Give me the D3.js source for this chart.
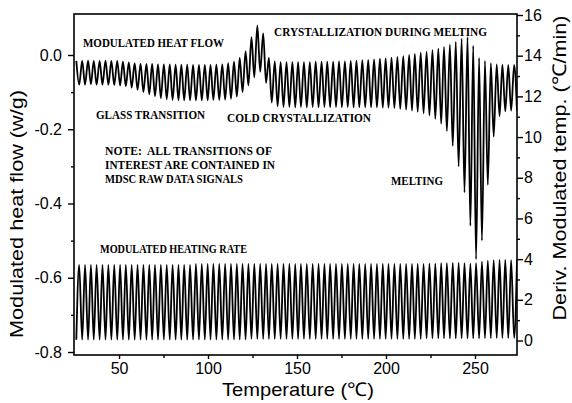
<!DOCTYPE html>
<html>
<head>
<meta charset="utf-8">
<script src="https://cdn.jsdelivr.net/npm/d3@7"></script>
<style>
  body { margin: 0; background: #fff; }
  svg { display: block; }
  .tick text { font-family: "Liberation Sans", Arial, sans-serif; font-size: 16px; fill: #000; }
  .tick line { stroke: #000; stroke-width: 1.4; }
  .note { font-family: "Liberation Serif", "Times New Roman", serif; font-weight: bold; font-size: 11.5px; fill: #000; }
  .title { font-family: "Liberation Sans", Arial, sans-serif; font-size: 19px; fill: #000; }
</style>
</head>
<body>
<svg id="chart" width="572" height="403"></svg>
<script>
// temperature (C) of each heat flow maximum / minimum, one entry per modulation cycle
let cycleTemp = [26.0, 29.3, 32.6, 35.8, 39.1, 42.4, 45.7, 49.0, 52.2, 55.5,
  58.8, 62.1, 65.4, 68.6, 71.9, 75.2, 78.5, 81.8, 85.0, 88.3,
  91.6, 94.9, 98.2, 101.4, 104.7, 108.0, 111.3, 114.6, 117.8, 121.1,
  124.4, 127.7, 131.0, 134.2, 137.5, 140.8, 144.1, 147.4, 150.6, 153.9,
  157.2, 160.5, 163.8, 167.0, 170.3, 173.6, 176.9, 180.2, 183.4, 186.7,
  190.0, 193.3, 196.6, 199.8, 203.1, 206.4, 209.7, 213.0, 216.2, 219.5,
  222.8, 226.1, 229.4, 232.6, 235.9, 239.2, 242.5, 245.8, 249.0, 252.3,
  255.6, 258.9, 262.2, 265.4, 268.7, 272.0];
let troughTemp = [27.6, 30.9, 34.2, 37.4, 40.7, 44.0, 47.3, 50.6, 53.8, 57.1,
  60.4, 63.7, 67.0, 70.2, 73.5, 76.8, 80.1, 83.4, 86.6, 89.9,
  93.2, 96.5, 99.8, 103.0, 106.3, 109.6, 112.9, 116.2, 119.4, 122.7,
  126.0, 129.3, 132.6, 135.8, 139.1, 142.4, 145.7, 149.0, 152.2, 155.5,
  158.8, 162.1, 165.4, 168.6, 171.9, 175.2, 178.5, 181.8, 185.0, 188.3,
  191.6, 194.9, 198.2, 201.4, 204.7, 208.0, 211.3, 214.6, 217.8, 221.1,
  224.4, 227.7, 231.0, 234.2, 237.5, 240.8, 244.1, 247.4, 250.6, 253.9,
  257.2, 260.5, 263.8, 267.0, 270.3, 273.6];

// modulated heat flow (w/g), left axis
let flowHigh = [-0.016, -0.016, -0.015, -0.016, -0.016, -0.015, -0.016, -0.016, -0.018, -0.020,
  -0.022, -0.023, -0.024, -0.024, -0.025, -0.025, -0.025, -0.026, -0.026, -0.026,
  -0.027, -0.027, -0.027, -0.027, -0.026, -0.025, -0.022, -0.018, -0.008, 0.010,
  0.048, 0.080, 0.058, -0.008, -0.017, -0.019, -0.019, -0.019, -0.019, -0.019,
  -0.019, -0.018, -0.018, -0.018, -0.018, -0.017, -0.017, -0.016, -0.015, -0.014,
  -0.013, -0.012, -0.010, -0.009, -0.007, -0.005, -0.003, 0.000, 0.003, 0.006,
  0.009, 0.013, 0.017, 0.022, 0.028, 0.035, 0.044, 0.048, 0.025, -0.008,
  -0.016, -0.022, -0.025, -0.026, -0.027, -0.027];
let flowLow = [-0.080, -0.080, -0.079, -0.080, -0.080, -0.080, -0.081, -0.082, -0.084, -0.088,
  -0.094, -0.100, -0.106, -0.111, -0.116, -0.119, -0.121, -0.122, -0.122, -0.122,
  -0.122, -0.122, -0.122, -0.121, -0.121, -0.120, -0.118, -0.112, -0.100, -0.082,
  -0.060, -0.045, -0.075, -0.128, -0.138, -0.140, -0.140, -0.141, -0.140, -0.141,
  -0.140, -0.141, -0.140, -0.141, -0.140, -0.141, -0.140, -0.141, -0.141, -0.141,
  -0.141, -0.141, -0.142, -0.142, -0.143, -0.145, -0.147, -0.150, -0.153, -0.157,
  -0.163, -0.172, -0.185, -0.205, -0.245, -0.300, -0.370, -0.460, -0.550, -0.500,
  -0.350, -0.220, -0.165, -0.152, -0.150, -0.150];

// modulated heating rate (C/min), right axis
let rateHigh = [3.72, 3.72, 3.72, 3.72, 3.72, 3.72, 3.72, 3.72, 3.72, 3.72,
  3.72, 3.72, 3.72, 3.72, 3.72, 3.72, 3.72, 3.72, 3.72, 3.72,
  3.76, 3.76, 3.76, 3.76, 3.76, 3.76, 3.76, 3.76, 3.76, 3.76,
  3.76, 3.76, 3.76, 3.76, 3.76, 3.76, 3.76, 3.76, 3.76, 3.76,
  3.76, 3.76, 3.76, 3.76, 3.76, 3.76, 3.76, 3.76, 3.76, 3.76,
  3.76, 3.76, 3.76, 3.76, 3.76, 3.76, 3.76, 3.76, 3.76, 3.76,
  3.78, 3.78, 3.80, 3.80, 3.82, 3.82, 3.80, 3.78, 3.80, 3.88,
  3.92, 3.95, 3.96, 3.96, 3.95, 3.95];
let rateLow = [0.04, 0.04, 0.04, 0.04, 0.04, 0.04, 0.04, 0.04, 0.04, 0.04,
  0.04, 0.04, 0.04, 0.04, 0.04, 0.04, 0.04, 0.04, 0.04, 0.04,
  0.04, 0.04, 0.04, 0.04, 0.04, 0.04, 0.04, 0.04, 0.04, 0.04,
  0.08, 0.08, 0.08, 0.08, 0.08, 0.08, 0.08, 0.08, 0.08, 0.08,
  0.08, 0.08, 0.08, 0.08, 0.08, 0.08, 0.08, 0.08, 0.08, 0.08,
  0.08, 0.08, 0.08, 0.08, 0.08, 0.08, 0.08, 0.08, 0.08, 0.08,
  0.10, 0.10, 0.10, 0.10, 0.10, 0.10, 0.10, 0.10, 0.10, 0.10,
  0.12, 0.12, 0.12, 0.12, 0.12, 0.12];

let xTicks = [50, 100, 150, 200, 250];
let xMinorTicks = [75, 125, 175, 225];
let leftTicks = [0.0, -0.2, -0.4, -0.6, -0.8];
let leftMinorTicks = [-0.1, -0.3, -0.5, -0.7];
let rightTicks = [0, 2, 4, 6, 8, 10, 12, 14, 16];
let rightMinorTicks = [1, 3, 5, 7, 9, 11, 13, 15];

let labels = [
  {text: "MODULATED HEAT FLOW", x: 83, y: 47, len: 141},
  {text: "CRYSTALLIZATION DURING MELTING", x: 274, y: 35.5, len: 213},
  {text: "GLASS TRANSITION", x: 96, y: 118.5, len: 109},
  {text: "COLD CRYSTALLIZATION", x: 227, y: 121.5, len: 144},
  {text: "NOTE:  ALL TRANSITIONS OF", x: 105, y: 154.5, len: 167},
  {text: "INTEREST ARE CONTAINED IN", x: 105, y: 169, len: 170},
  {text: "MDSC RAW DATA SIGNALS", x: 105, y: 183, len: 138},
  {text: "MELTING", x: 391, y: 185, len: 52},
  {text: "MODULATED HEATING RATE", x: 100, y: 252.5, len: 147}
];

let plotLeft = 74, plotRight = 517, plotTop = 14, plotBottom = 355;
let svg = d3.select("#chart");

let xScale = d3.scaleLinear().domain([24.7, 273.6]).range([plotLeft, plotRight]);
let yLeft = d3.scaleLinear().domain([-0.8, 0]).range([352, 55]);
let yRight = d3.scaleLinear().domain([0, 16]).range([340.5, 15]);

// build the oscillating traces from the read extrema
let flowPts = [];
let ratePts = [];
cycleTemp.forEach(function(t, i) {
  flowPts.push([t, flowHigh[i]]);
  flowPts.push([troughTemp[i], flowLow[i]]);
  ratePts.push([t, rateLow[i]]);
  ratePts.push([troughTemp[i], rateHigh[i]]);
});

svg.append("clipPath").attr("id", "plotClip")
  .append("rect")
  .attr("x", plotLeft).attr("y", plotTop)
  .attr("width", plotRight - plotLeft).attr("height", plotBottom - plotTop);

let flowLine = d3.line()
  .x(d => xScale(d[0]))
  .y(d => yLeft(d[1]))
  .curve(d3.curveMonotoneX);
let rateLine = d3.line()
  .x(d => xScale(d[0]))
  .y(d => yRight(d[1]))
  .curve(d3.curveMonotoneX);

let plot = svg.append("g").attr("clip-path", "url(#plotClip)");
plot.append("path")
  .attr("d", flowLine(flowPts))
  .attr("fill", "none")
  .attr("stroke", "#000")
  .attr("stroke-width", 1.8)
  .attr("stroke-linejoin", "round");
plot.append("path")
  .attr("d", rateLine(ratePts))
  .attr("fill", "none")
  .attr("stroke", "#000")
  .attr("stroke-width", 1.8)
  .attr("stroke-linejoin", "round");

// axes
let xAxis = d3.axisBottom(xScale).tickValues(xTicks).tickSize(4).tickPadding(4).tickSizeOuter(0);
svg.append("g").attr("transform", "translate(0," + plotBottom + ")").call(xAxis)
  .call(g => g.select(".domain").remove());
svg.append("g").attr("transform", "translate(0," + plotBottom + ")")
  .call(d3.axisBottom(xScale).tickValues(xMinorTicks).tickSize(3).tickFormat(""))
  .call(g => g.select(".domain").remove());

let leftAxis = d3.axisLeft(yLeft).tickValues(leftTicks).tickSize(6).tickPadding(6)
  .tickFormat(d => d.toFixed(1));
svg.append("g").attr("transform", "translate(" + plotLeft + ",0)").call(leftAxis)
  .call(g => g.select(".domain").remove());
svg.append("g").attr("transform", "translate(" + plotLeft + ",0)")
  .call(d3.axisLeft(yLeft).tickValues(leftMinorTicks).tickSize(3).tickFormat(""))
  .call(g => g.select(".domain").remove());

let rightAxis = d3.axisRight(yRight).tickValues(rightTicks).tickSize(6).tickPadding(1);
svg.append("g").attr("transform", "translate(" + plotRight + ",0)").call(rightAxis)
  .call(g => g.select(".domain").remove());
svg.append("g").attr("transform", "translate(" + plotRight + ",0)")
  .call(d3.axisRight(yRight).tickValues(rightMinorTicks).tickSize(3).tickFormat(""))
  .call(g => g.select(".domain").remove());

svg.append("rect")
  .attr("x", plotLeft).attr("y", plotTop)
  .attr("width", plotRight - plotLeft).attr("height", plotBottom - plotTop)
  .attr("fill", "none")
  .attr("stroke", "#000")
  .attr("stroke-width", 1.6);

// axis titles
svg.append("text").attr("class", "title")
  .attr("transform", "translate(23,214) rotate(-90)")
  .attr("text-anchor", "middle")
  .attr("textLength", 248).attr("lengthAdjust", "spacingAndGlyphs")
  .text("Modulated heat flow (w/g)");
svg.append("text").attr("class", "title")
  .attr("transform", "translate(566,168) rotate(-90)")
  .attr("text-anchor", "middle")
  .attr("textLength", 305).attr("lengthAdjust", "spacingAndGlyphs")
  .text("Deriv. Modulated temp. (\u2103/min)");
svg.append("text").attr("class", "title")
  .attr("x", 298).attr("y", 396)
  .attr("text-anchor", "middle")
  .attr("textLength", 152).attr("lengthAdjust", "spacingAndGlyphs")
  .text("Temperature (\u2103)");

// annotations
svg.selectAll("text.note").data(labels).enter().append("text")
  .attr("class", "note")
  .attr("x", d => d.x)
  .attr("y", d => d.y)
  .attr("textLength", d => d.len)
  .attr("lengthAdjust", "spacingAndGlyphs")
  .style("white-space", "pre")
  .text(d => d.text);
</script>
</body>
</html>
